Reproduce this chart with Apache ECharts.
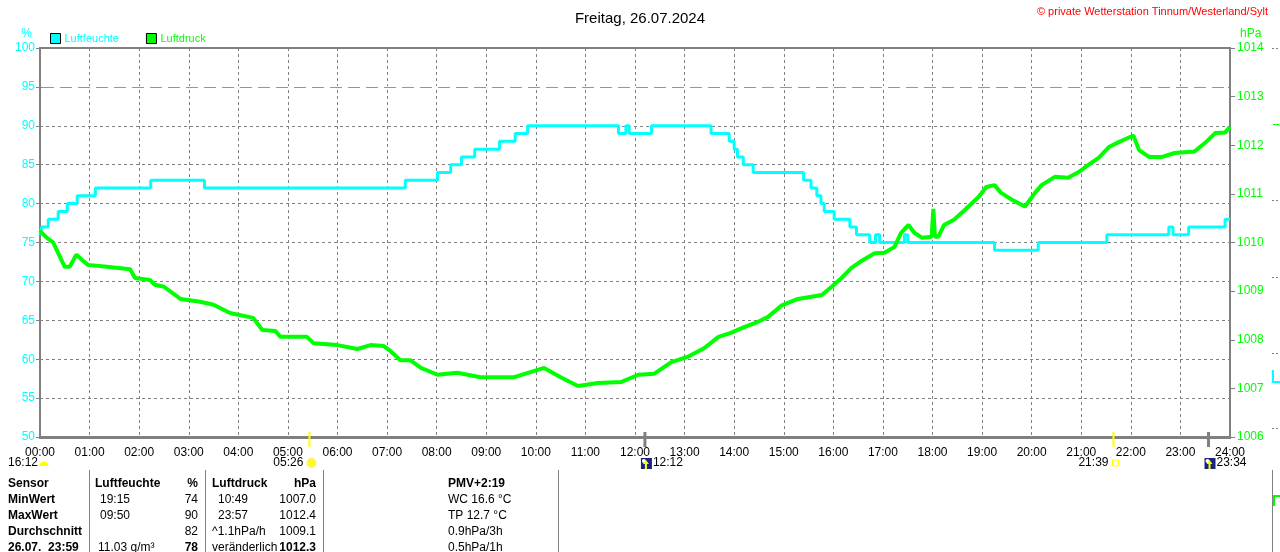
<!DOCTYPE html>
<html><head><meta charset="utf-8">
<script src="https://cdn.jsdelivr.net/npm/echarts/dist/echarts.min.js"></script>
<style>html,body{margin:0;padding:0;background:#fff}#c{width:1280px;height:552px}</style>
</head><body><div id="c"></div>
<script>
// ---- data ----
const hourLabels = ['00:00','01:00','02:00','03:00','04:00','05:00','06:00','07:00','08:00','09:00','10:00','11:00','12:00','13:00','14:00','15:00','16:00','17:00','18:00','19:00','20:00','21:00','22:00','23:00','24:00'];
const humTicks = [50,55,60,65,70,75,80,85,90,95,100];
const presTicks = [1006,1007,1008,1009,1010,1011,1012,1013,1014];

const humTimes = ['00:00','00:02','00:10','00:22','00:33','00:45','01:07','02:14','03:19','07:22','08:01','08:17','08:30','08:46','09:16','09:35','09:50','11:40','11:49','11:53','12:20','13:32','13:54','14:00','14:04','14:11','14:23','15:24','15:33','15:40','15:45','15:49','16:01','16:20','16:28','16:44','16:51','16:56','17:26','17:30','19:15','20:08','21:31','22:46','22:51','23:10','23:54','24:00'];
const humValues = [76,77,78,79,80,81,82,83,82,83,84,85,86,87,88,89,90,89,90,89,90,89,88,87,86,85,84,83,82,81,80,79,78,77,76,75,76,75,76,75,74,75,76,77,76,77,78,78];

const presTimes = ['00:00','00:02','00:08','00:16','00:22','00:30','00:36','00:44','00:51','00:58','01:21','01:49','01:55','02:13','02:19','02:30','02:50','03:14','03:30','03:50','04:18','04:29','04:45','04:51','05:23','05:31','06:00','06:24','06:40','06:56','07:04','07:16','07:28','07:41','08:01','08:25','08:53','09:34','10:10','10:30','10:51','11:15','11:43','12:04','12:23','12:44','13:04','13:24','13:41','13:56','14:12','14:29','14:41','14:57','15:17','15:46','15:58','16:10','16:22','16:34','16:50','17:02','17:14','17:22','17:31','17:38','17:47','17:59','18:01','18:03','18:07','18:14','18:26','18:39','18:56','19:05','19:15','19:23','19:36','19:52','20:04','20:12','20:28','20:44','20:57','21:09','21:21','21:34','21:46','21:59','22:03','22:10','22:22','22:38','22:53','23:17','23:30','23:42','23:54','24:00'];
const presValues = [1010.25,1010.2,1010.1,1010.0,1009.78,1009.5,1009.5,1009.75,1009.64,1009.54,1009.5,1009.45,1009.27,1009.23,1009.13,1009.09,1008.84,1008.78,1008.72,1008.55,1008.45,1008.2,1008.18,1008.06,1008.06,1007.93,1007.89,1007.81,1007.89,1007.87,1007.77,1007.58,1007.58,1007.42,1007.28,1007.32,1007.23,1007.23,1007.42,1007.23,1007.05,1007.11,1007.13,1007.28,1007.3,1007.54,1007.65,1007.83,1008.06,1008.14,1008.26,1008.37,1008.47,1008.7,1008.84,1008.92,1009.09,1009.27,1009.48,1009.62,1009.78,1009.79,1009.91,1010.2,1010.36,1010.2,1010.1,1010.12,1010.69,1010.12,1010.12,1010.36,1010.47,1010.67,1010.94,1011.14,1011.18,1011.02,1010.88,1010.74,1011.02,1011.18,1011.35,1011.33,1011.45,1011.6,1011.74,1011.97,1012.07,1012.17,1012.2,1011.9,1011.76,1011.76,1011.84,1011.87,1012.05,1012.25,1012.26,1012.38];

const humAlarm = 95;
const eventTimes = ['05:26','12:12','21:39','23:34'];
const eventLabels = ['16:12','05:26','12:12','21:39','23:34'];

const tableRows = [
  ['Sensor','Luftfeuchte','%','Luftdruck','hPa','PMV+2:19'],
  ['MinWert','19:15','74','10:49','1007.0','WC 16.6 °C'],
  ['MaxWert','09:50','90','23:57','1012.4','TP 12.7 °C'],
  ['Durchschnitt','','82','^1.1hPa/h','1009.1','0.9hPa/3h'],
  ['26.07.  23:59','11.03 g/m³','78','veränderlich','1012.3','0.5hPa/1h']
];
const titleText = 'Freitag, 26.07.2024';
const copyText = '© private Wetterstation Tinnum/Westerland/Sylt';

// ---- helpers ----
function toH(s){ const p = s.split(':'); return (+p[0]) + (+p[1])/60; }
const FONT = '"Liberation Sans", Arial, sans-serif';
const CYAN = '#00ffff', GREEN = '#00ff00', GRAY = '#808080';

const chart = echarts.init(document.getElementById('c'), null, {renderer:'canvas'});

chart.setOption({
  animation:false,
  backgroundColor:'#fff',
  title:{text:titleText,left:'center',top:6,textStyle:{fontFamily:FONT,fontSize:15,fontWeight:'normal',color:'#000'}},
  legend:{left:50,top:33,padding:0,itemWidth:10,itemHeight:10,itemGap:27,icon:'rect',
    itemStyle:{borderColor:'#000',borderWidth:1},
    textStyle:{fontFamily:FONT,fontSize:11,padding:[0,0,0,-1]},
    data:[{name:'Luftfeuchte',textStyle:{color:CYAN}},{name:'Luftdruck',textStyle:{color:GREEN}}]},
  grid:{left:40,right:50,top:48,bottom:115,show:true,borderColor:GRAY,borderWidth:2,backgroundColor:'transparent'},
  xAxis:{type:'value',min:0,max:24,interval:1,
    axisLine:{lineStyle:{color:GRAY,width:3}},axisTick:{show:false},
    axisLabel:{color:'#000',fontFamily:FONT,fontSize:12,margin:10,formatter:v=>hourLabels[Math.round(v)]},
    splitLine:{show:true,lineStyle:{color:GRAY,type:[3,3],width:1}}},
  yAxis:[
    {type:'value',min:humTicks[0],max:humTicks[humTicks.length-1],interval:5,position:'left',
     name:'%',nameLocation:'end',nameGap:8,nameTextStyle:{color:CYAN,fontFamily:FONT,fontSize:12,align:'right',padding:[0,8,0,0]},
     axisLine:{show:true,lineStyle:{color:GRAY,width:2}},axisTick:{show:true,length:4,lineStyle:{color:GRAY}},
     axisLabel:{color:CYAN,fontFamily:FONT,fontSize:12,margin:5,formatter:v=>String(v)},
     splitLine:{show:true,lineStyle:{color:GRAY,type:[3,3],width:1}}},
    {type:'value',min:presTicks[0],max:presTicks[presTicks.length-1],interval:1,position:'right',
     name:'hPa',nameLocation:'end',nameGap:8,nameTextStyle:{color:GREEN,fontFamily:FONT,fontSize:12,align:'left',padding:[0,0,0,10]},
     axisLine:{show:true,lineStyle:{color:GRAY,width:2}},axisTick:{show:true,length:5,lineStyle:{color:GRAY}},
     axisLabel:{color:GREEN,fontFamily:FONT,fontSize:12,margin:7,formatter:v=>String(v)},
     splitLine:{show:false}}
  ],
  series:[
    {name:'Luftfeuchte',type:'line',step:'end',yAxisIndex:0,showSymbol:false,symbol:'none',
     color:CYAN,lineStyle:{color:CYAN,width:3},z:12,
     data:humTimes.map((t,i)=>[toH(t),humValues[i]])},
    {name:'Luftdruck',type:'line',yAxisIndex:1,showSymbol:false,symbol:'none',
     color:GREEN,lineStyle:{color:GREEN,width:4},z:13,
     data:presTimes.map((t,i)=>[toH(t),presValues[i]])}
  ]
});

// ---- extra drawn elements (alarm line, events, table, edge) ----
const g = [];
const axisY = chart.convertToPixel({yAxisIndex:0}, humTicks[0]);
const alarmY = Math.round(chart.convertToPixel({yAxisIndex:0}, humAlarm)) + 0.5;
const x0 = chart.convertToPixel({xAxisIndex:0}, 0);
const x24 = chart.convertToPixel({xAxisIndex:0}, 24);
g.push({type:'line',z:5,shape:{x1:x0+2,y1:alarmY,x2:x24-2,y2:alarmY},style:{stroke:'#ffffff',lineWidth:3}});
g.push({type:'line',z:6,shape:{x1:x0+2,y1:alarmY,x2:x24-2,y2:alarmY},style:{stroke:GREEN,lineWidth:1.2,lineDash:[12,6]}});
const ex = eventTimes.map(t => chart.convertToPixel({xAxisIndex:0}, toH(t)));
const evColors = ['#ffff00', GRAY, '#ffff00', GRAY];
ex.forEach((x,i)=>{
  g.push({type:'line',z:20,shape:{x1:x,y1:axisY-5,x2:x,y2:axisY+10},style:{stroke:evColors[i],lineWidth:i%2?3:2}});
});
const rowY = axisY + 26;
function txt(x,y,s,opt){ g.push({type:'text',z:20,x:x,y:y,style:Object.assign({text:s,fill:'#000',font:'12px '+FONT,textVerticalAlign:'middle'},opt||{})}); }
txt(x0-2,rowY,eventLabels[0],{textAlign:'right'});
g.push({type:'sector',z:20,shape:{cx:x0+4,cy:rowY+3,r0:0,r:4.5,startAngle:Math.PI,endAngle:2*Math.PI},style:{fill:'#ffff00'}});
txt(ex[0]-6,rowY,eventLabels[1],{textAlign:'right'});
g.push({type:'circle',z:20,shape:{cx:ex[0]+2,cy:rowY,r:4},style:{fill:'#ffff00',stroke:'#ffee66',lineWidth:2}});
function moonIcon(x){
  g.push({type:'rect',z:20,shape:{x:x-4,y:rowY-5,width:11,height:11},style:{fill:'#1a237e'}});
  g.push({type:'circle',z:21,shape:{cx:x-1,cy:rowY-2,r:2},style:{fill:'#ffffff'}});
  g.push({type:'polygon',z:21,shape:{points:[[x+1,rowY-3],[x+4,rowY+1],[x+2,rowY+1],[x+2,rowY+6],[x,rowY+6],[x,rowY+1],[x-2,rowY+1]]},style:{fill:'#ffff00'}});
}
moonIcon(ex[1]);
txt(ex[1]+8,rowY,eventLabels[2],{textAlign:'left'});
txt(ex[2]-5,rowY,eventLabels[3],{textAlign:'right'});
g.push({type:'rect',z:20,shape:{x:ex[2]-1,y:rowY-3,width:6,height:6},style:{fill:'none',stroke:'#ffff00',lineWidth:1}});
moonIcon(ex[3]);
txt(ex[3]+8,rowY,eventLabels[4],{textAlign:'left'});

// table
const seps = [89,205,323,558];
seps.forEach(x=>g.push({type:'line',z:20,shape:{x1:x+0.5,y1:470,x2:x+0.5,y2:552},style:{stroke:GRAY,lineWidth:1}}));
const rowYs = [484,500,516,532,548];
tableRows.forEach((r,i)=>{
  const y = rowYs[i];
  const b = 'bold 12px '+FONT, n = '12px '+FONT;
  txt(8,y,r[0],{font:b});
  txt(i===0?95:(i===4?98:100),y,r[1],{font:i===0?b:n});
  txt(198,y,r[2],{font:(i===0||i===4)?b:n,textAlign:'right'});
  txt(i===0||i>=3?212:218,y,r[3],{font:i===0?b:n});
  txt(316,y,r[4],{font:(i===0||i===4)?b:n,textAlign:'right'});
  txt(448,y,r[5],{font:i===0?b:n});
});
g.push({type:'text',z:20,x:1268,y:12,style:{text:copyText,fill:'#ff0000',font:'11px '+FONT,textAlign:'right',textVerticalAlign:'middle'}});
[48,200,277,353,428].forEach(y=>g.push({type:'line',z:20,shape:{x1:1272,y1:y+0.5,x2:1280,y2:y+0.5},style:{stroke:GRAY,lineWidth:1,lineDash:[2,2]}}));
g.push({type:'line',z:20,shape:{x1:1273,y1:124.5,x2:1279,y2:124.5},style:{stroke:GREEN,lineWidth:1}});
g.push({type:'polyline',z:20,shape:{points:[[1273,370],[1273,382],[1280,382]]},style:{stroke:CYAN,lineWidth:2,fill:'none'}});
g.push({type:'line',z:20,shape:{x1:1272.5,y1:470,x2:1272.5,y2:552},style:{stroke:GRAY,lineWidth:1}});
g.push({type:'polyline',z:20,shape:{points:[[1274,506],[1274,496],[1280,496]]},style:{stroke:GREEN,lineWidth:2,fill:'none'}});

chart.setOption({graphic:{elements:g}});
</script></body></html>
